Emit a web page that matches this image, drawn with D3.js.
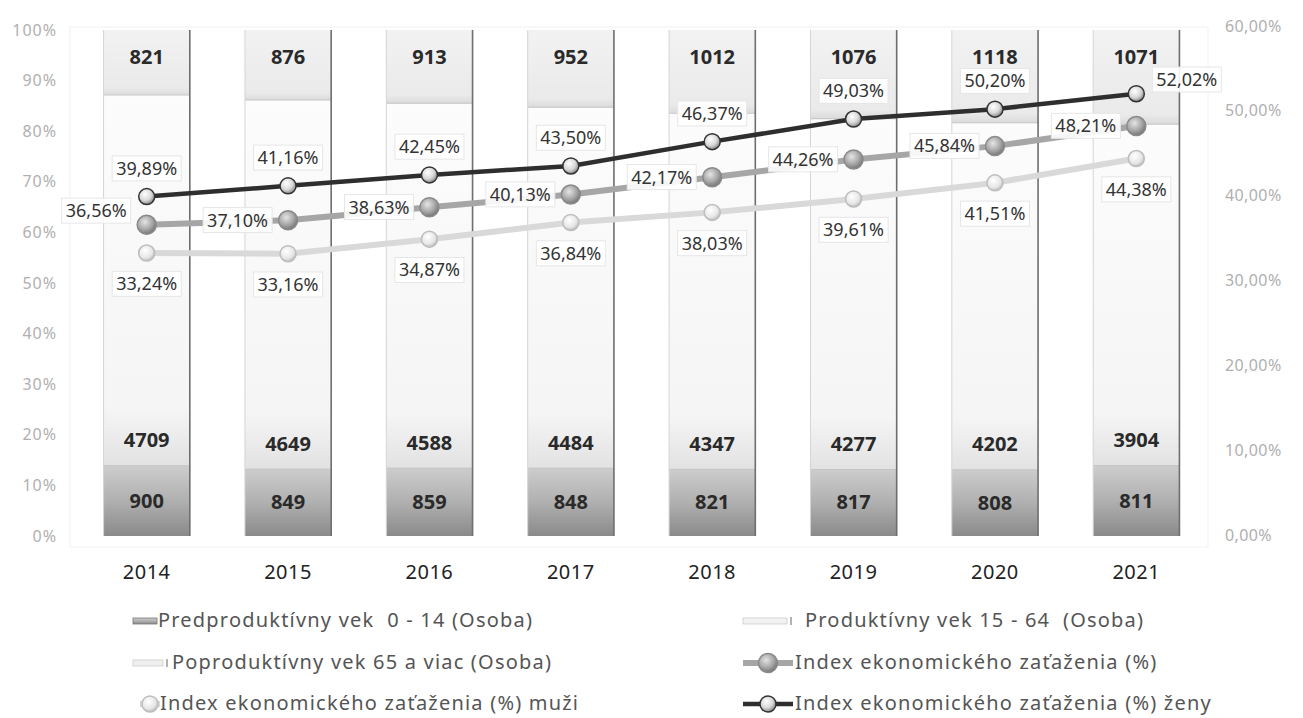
<!DOCTYPE html>
<html>
<head>
<meta charset="utf-8">
<script src="https://cdn.jsdelivr.net/npm/d3@7"></script>
<style>
  body { margin: 0; background: #fff; }
  svg { display: block; font-family: "Noto Sans", "Open Sans", sans-serif; }
</style>
</head>
<body>
<div id="chart"></div>
<script>
const years = ['2014', '2015', '2016', '2017', '2018', '2019', '2020', '2021'];
const predproduktivny = [900, 849, 859, 848, 821, 817, 808, 811];
const produktivny = [4709, 4649, 4588, 4484, 4347, 4277, 4202, 3904];
const poproduktivny = [821, 876, 913, 952, 1012, 1076, 1118, 1071];
const indexSpolu = [36.56, 37.10, 38.63, 40.13, 42.17, 44.26, 45.84, 48.21];
const indexMuzi = [33.24, 33.16, 34.87, 36.84, 38.03, 39.61, 41.51, 44.38];
const indexZeny = [39.89, 41.16, 42.45, 43.50, 46.37, 49.03, 50.20, 52.02];
const leftTicks = [0, 0.1, 0.2, 0.3, 0.4, 0.5, 0.6, 0.7, 0.8, 0.9, 1];
const rightTicks = [0, 10, 20, 30, 40, 50, 60];

const width = 1303;
const height = 718;

const svg = d3.select('#chart')
    .append('svg')
    .attr('width', width)
    .attr('height', height);

const defs = svg.append('defs');

function linGrad(id, stops) {
    const g = defs.append('linearGradient')
        .attr('id', id)
        .attr('x1', 0).attr('y1', 0).attr('x2', 0).attr('y2', 1);
    stops.forEach(s => g.append('stop').attr('offset', s[0]).attr('stop-color', s[1]));
}
function radGrad(id, stops) {
    const g = defs.append('radialGradient')
        .attr('id', id)
        .attr('cx', '40%').attr('cy', '35%').attr('r', '65%');
    stops.forEach(s => g.append('stop').attr('offset', s[0]).attr('stop-color', s[1]));
}
linGrad('gPred', [[0, '#cdcdcd'], [0.5, '#b0b0b0'], [1, '#8a8a8a']]);
linGrad('gProd', [[0, '#fcfcfc'], [0.85, '#f5f5f5'], [1, '#e2e2e2']]);
linGrad('gPop', [[0, '#f2f2f2'], [0.9, '#eaeaea'], [1, '#dcdcdc']]);
radGrad('mZeny', [[0, '#ffffff'], [0.6, '#d8d8d8'], [1, '#8a8a8a']]);
radGrad('mIndex', [[0, '#e4e4e4'], [0.6, '#a8a8a8'], [1, '#777777']]);
radGrad('mMuzi', [[0, '#ffffff'], [0.7, '#e6e6e6'], [1, '#bdbdbd']]);

const x = d3.scaleBand()
    .domain(years)
    .range([76, 1207])
    .paddingInner(0.39)
    .paddingOuter(0.195);

const yLeft = d3.scaleLinear().domain([0, 1]).range([536, 30]);
const yRight = d3.scaleLinear().domain([0, 60]).range([535, 26]);

// plot area frame (faint)
svg.append('rect')
    .attr('x', 70).attr('y', 27)
    .attr('width', 1138).attr('height', 520)
    .attr('fill', 'none')
    .attr('stroke', '#f2f2f2');

// left axis
svg.append('g').selectAll('text')
    .data(leftTicks)
    .enter().append('text')
    .attr('x', 57)
    .attr('y', d => yLeft(d))
    .attr('dy', '0.35em')
    .attr('text-anchor', 'end')
    .style('font-size', '16px')
    .style('letter-spacing', '1px')
    .style('fill', '#b0b0b0')
    .text(d => d3.format('.0%')(d));

// right axis
svg.append('g').selectAll('text')
    .data(rightTicks)
    .enter().append('text')
    .attr('x', 1225)
    .attr('y', d => yRight(d))
    .attr('dy', '0.35em')
    .style('font-size', '16px')
    .style('letter-spacing', '0.4px')
    .style('fill', '#b0b0b0')
    .text(d => d3.format('.2f')(d).replace('.', ',') + '%');

// stacked 100% bars
const barData = years.map((year, i) => ({
    year,
    pred: predproduktivny[i],
    prod: produktivny[i],
    pop: poproduktivny[i]
}));
const stack = d3.stack()
    .keys(['pred', 'prod', 'pop'])
    .offset(d3.stackOffsetExpand);
const series = stack(barData);
const fills = { pred: 'url(#gPred)', prod: 'url(#gProd)', pop: 'url(#gPop)' };

const layers = svg.append('g').selectAll('g')
    .data(series)
    .enter().append('g');

layers.selectAll('rect')
    .data(d => d.map(p => ({ key: d.key, p })))
    .enter().append('rect')
    .attr('x', d => x(d.p.data.year))
    .attr('width', x.bandwidth())
    .attr('y', d => yLeft(d.p[1]))
    .attr('height', d => yLeft(d.p[0]) - yLeft(d.p[1]))
    .attr('fill', d => fills[d.key]);

// segment boundaries
layers.filter(d => d.key !== 'pop').selectAll('line')
    .data(d => d.map(p => ({ key: d.key, p })))
    .enter().append('line')
    .attr('x1', d => x(d.p.data.year))
    .attr('x2', d => x(d.p.data.year) + x.bandwidth())
    .attr('y1', d => yLeft(d.p[1]))
    .attr('y2', d => yLeft(d.p[1]))
    .attr('stroke', '#c4c4c4')
    .attr('stroke-width', 2);

// bar edges
const edges = svg.append('g');
edges.selectAll('.redge')
    .data(years)
    .enter().append('line')
    .attr('x1', d => x(d) + x.bandwidth())
    .attr('x2', d => x(d) + x.bandwidth())
    .attr('y1', yLeft(1))
    .attr('y2', yLeft(0))
    .attr('stroke', '#6e6e6e')
    .attr('stroke-width', 1.6);
edges.selectAll('.ledge')
    .data(years)
    .enter().append('line')
    .attr('x1', d => x(d))
    .attr('x2', d => x(d))
    .attr('y1', yLeft(1))
    .attr('y2', yLeft(0))
    .attr('stroke', '#d4d4d4')
    .attr('stroke-width', 1);

// bar value labels
const barLabels = svg.append('g')
    .style('font-size', '20px')
    .style('font-weight', 'bold')
    .style('fill', '#2a2a2a')
    .attr('text-anchor', 'middle');

series.forEach(s => {
    barLabels.selectAll(null)
        .data(s)
        .enter().append('text')
        .attr('x', d => x(d.data.year) + x.bandwidth() / 2)
        .attr('y', d => {
            if (s.key === 'pred') return (yLeft(d[0]) + yLeft(d[1])) / 2;
            if (s.key === 'prod') return yLeft(d[0]) - 25;
            return yLeft(d[1]) + 27;
        })
        .attr('dy', '0.35em')
        .text(d => d.data[s.key]);
});

// lines
const lineSeries = [
    { key: 'muzi', values: indexMuzi, stroke: '#d9d9d9', width: 6, marker: 'url(#mMuzi)', mstroke: '#bdbdbd', r: 8, pos: 'below' },
    { key: 'index', values: indexSpolu, stroke: '#a6a6a6', width: 6, marker: 'url(#mIndex)', mstroke: '#8a8a8a', r: 9.5, pos: 'left' },
    { key: 'zeny', values: indexZeny, stroke: '#2e2e2e', width: 4.5, marker: 'url(#mZeny)', mstroke: '#333', r: 8, pos: 'above' }
];

const line = d3.line()
    .x((d, i) => x(years[i]) + x.bandwidth() / 2)
    .y(d => yRight(d));

lineSeries.forEach(s => {
    svg.append('path')
        .datum(s.values)
        .attr('d', line)
        .attr('fill', 'none')
        .attr('stroke', s.stroke)
        .attr('stroke-width', s.width)
        .attr('stroke-linejoin', 'round');
});

lineSeries.forEach(s => {
    svg.append('g').selectAll('circle')
        .data(s.values)
        .enter().append('circle')
        .attr('cx', (d, i) => x(years[i]) + x.bandwidth() / 2)
        .attr('cy', d => yRight(d))
        .attr('r', s.r)
        .attr('fill', s.marker)
        .attr('stroke', s.mstroke)
        .attr('stroke-width', 1.5);
});

// line data labels with boxes
lineSeries.forEach(s => {
    s.values.forEach((v, i) => {
        const cx = x(years[i]) + x.bandwidth() / 2;
        const cy = yRight(v);
        let pos = s.pos;
        if (s.key === 'zeny' && i === s.values.length - 1) pos = 'right';
        const g = svg.append('g');
        const t = g.append('text')
            .style('font-size', '18px')
            .style('fill', '#333')
            .attr('dy', '0.35em')
            .text(d3.format('.2f')(v).replace('.', ',') + '%');
        if (pos === 'above') {
            t.attr('x', cx).attr('y', cy - 28).attr('text-anchor', 'middle');
        } else if (pos === 'below') {
            t.attr('x', cx).attr('y', cy + 31).attr('text-anchor', 'middle');
        } else if (pos === 'left') {
            // first label sits a bit higher, next to the axis
            t.attr('x', cx - 20).attr('y', i === 0 ? cy - 14 : cy).attr('text-anchor', 'end');
        } else {
            t.attr('x', cx + 20).attr('y', cy - 14).attr('text-anchor', 'start');
        }
        const bb = t.node().getBBox();
        g.insert('rect', 'text')
            .attr('x', bb.x - 4)
            .attr('y', bb.y)
            .attr('width', bb.width + 8)
            .attr('height', bb.height + 1)
            .attr('fill', '#fff')
            .attr('fill-opacity', 0.9)
            .attr('stroke', '#e6e6e6');
    });
});

// x labels
svg.append('g').selectAll('text')
    .data(years)
    .enter().append('text')
    .attr('x', d => x(d) + x.bandwidth() / 2)
    .attr('y', 572)
    .attr('dy', '0.35em')
    .attr('text-anchor', 'middle')
    .style('font-size', '20px')
    .style('letter-spacing', '0.5px')
    .style('fill', '#222')
    .text(d => d);

// legend
const legendItems = [
    { label: 'Predproduktívny vek  0 - 14 (Osoba)', type: 'bar', fill: 'url(#gPred)', stroke: '#777', row: 0, sx: 133, sw: 24, tx: 158 },
    { label: 'Produktívny vek 15 - 64  (Osoba)', type: 'bar', fill: '#f2f2f2', stroke: '#ccc', row: 0, sx: 743, sw: 44, tx: 805 },
    { label: 'Poproduktívny vek 65 a viac (Osoba)', type: 'bar', fill: '#efefef', stroke: '#ccc', row: 1, sx: 133, sw: 30, tx: 172 },
    { label: 'Index ekonomického zaťaženia (%)', type: 'line', s: lineSeries[1], row: 1, sx: 743, sw: 50, tx: 795 },
    { label: 'Index ekonomického zaťaženia (%) muži', type: 'line', s: lineSeries[0], row: 2, sx: 140, sw: 20, tx: 160 },
    { label: 'Index ekonomického zaťaženia (%) ženy', type: 'line', s: lineSeries[2], row: 2, sx: 743, sw: 50, tx: 795 }
];
const legendRows = [620, 662, 703];

const legend = svg.append('g');
legendItems.forEach(d => {
    const ly = legendRows[d.row];
    if (d.type === 'bar') {
        legend.append('rect')
            .attr('x', d.sx).attr('y', ly - 2)
            .attr('width', d.sw).attr('height', 6)
            .attr('fill', d.fill)
            .attr('stroke', d.stroke)
            .attr('stroke-width', 0.8);
        if (d.fill !== 'url(#gPred)') {
            legend.append('line')
                .attr('x1', d.sx + d.sw + 4).attr('x2', d.sx + d.sw + 4)
                .attr('y1', ly - 3).attr('y2', ly + 5)
                .attr('stroke', '#999').attr('stroke-width', 1.5);
        }
    } else {
        legend.append('line')
            .attr('x1', d.sx).attr('x2', d.sx + d.sw)
            .attr('y1', ly + 1).attr('y2', ly + 1)
            .attr('stroke', d.s.stroke)
            .attr('stroke-width', d.s.width);
        legend.append('circle')
            .attr('cx', d.sx + d.sw / 2).attr('cy', ly + 1)
            .attr('r', d.s.r)
            .attr('fill', d.s.marker)
            .attr('stroke', d.s.mstroke)
            .attr('stroke-width', 1.5);
    }
    legend.append('text')
        .attr('x', d.tx)
        .attr('y', ly)
        .attr('dy', '0.35em')
        .style('font-size', '20px')
        .style('letter-spacing', '1.2px')
        .style('fill', '#555')
        .style('white-space', 'pre')
        .text(d.label);
});
</script>
</body>
</html>
